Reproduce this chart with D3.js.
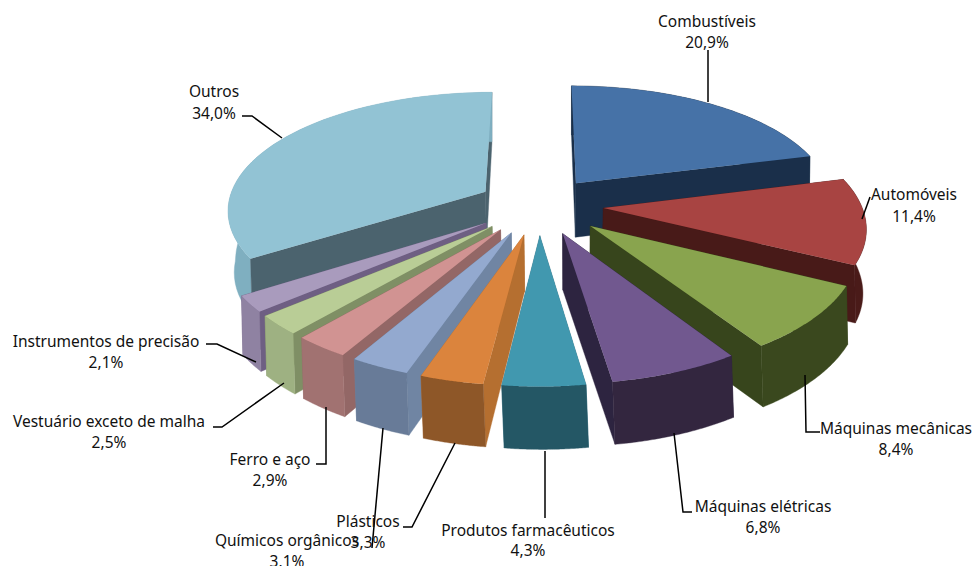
<!DOCTYPE html>
<html><head><meta charset="utf-8">
<script src="https://cdn.jsdelivr.net/npm/d3@7"></script>
<style>html,body{margin:0;padding:0;background:#fff;overflow:hidden}svg{display:block}
text{font-family:"Noto Sans",sans-serif;font-size:15.5px;fill:#111;text-anchor:middle}</style>
</head><body><svg id="c" width="973" height="566"></svg>
<script>
const categories=["Combustíveis","Automóveis","Máquinas mecânicas","Máquinas elétricas","Produtos farmacêuticos","Plásticos","Químicos orgânicos","Ferro e aço","Vestuário exceto de malha","Instrumentos de precisão","Outros"];
const values=[20.9,11.4,8.4,6.8,4.3,3.3,3.1,2.9,2.5,2.1,34.0];
const percentLabels=["20,9%","11,4%","8,4%","6,8%","4,3%","3,3%","3,1%","2,9%","2,5%","2,1%","34,0%"];
const topColors=["#4672a7","#a84442","#89a44e","#71588f","#4198af","#db843d","#93a9cf","#d19392","#b9cd96","#a99bbd","#92c3d4"];
const rimColors=["#1a2f4a","#4a1b19","#3a481e","#33263f","#245765","#8e5728","#687b98","#a17271","#9eb182","#8f82a2","#7fafc0"];
const wallColors=["#1a2f4a","#481a18","#37451c","#2d2440","#2f7082","#b56f30","#7085a3","#936766","#7f8f65","#6e5f83","#4b636e"];
const explodeBy=[0.24,0.25,0.26,0.25,0.25,0.25,0.25,0.25,0.25,0.25,0.24];
// label layout: [centre x, name baseline, percent baseline], leader polyline
const labelAt=[[707,27,48],[914,200,222],[896,434,455],[763,512,533],[528,536,556],[368,527,548],[287,546,567],[270,465,486],[109,427,448],[106,347,368],[214,97,119]];
const leaders=[[[708,50],[708,102]],[[870,197],[862,219]],[[820,432],[806,432],[805,375]],[[692,512],[683,512],[674,433]],[[545,518],[545,451]],[[403,527],[412,527],[455,443]],[[372,548],[383,428]],[[316,464],[326,464],[326,407]],[[213,427],[222,427],[284,383]],[[206,344],[217,344],[256,362]],[[242,116],[252,116],[282,138]]];

const cx=539,cy=205,A=258,B=118,Px=0.14,Py=0.15,Ph=0.10,H=55;
const project=(X,Y,h)=>{
  const lean=h?(Math.max(Y,0)*2-6*X*Math.max(0,1-2*Math.abs(Y))):0;
  return [cx+X*A/(1-Px*Y)+lean,cy+Y*B/(1-Py*Y)+h/(1-Ph*Y)];};
const svg=d3.select("#c");
const arcs=d3.pie().sort(null).value(d=>d)(values);
const lineGen=d3.line();
const slices=arcs.map((a,i)=>{
  const mid=(a.startAngle+a.endAngle)/2;
  const ox=explodeBy[i]*Math.sin(mid),oy=-explodeBy[i]*Math.cos(mid);
  const rim=d3.range(0,1.0001,1/48).map(t=>{const ang=a.startAngle+t*(a.endAngle-a.startAngle);
    return [ox+Math.sin(ang),oy-Math.cos(ang)];});
  return {i,mid,apex:[ox,oy],rim};
});
const wall=(pts)=>lineGen(pts.map(p=>project(p[0],p[1],0)).concat(pts.slice().reverse().map(p=>project(p[0],p[1],H))))+"Z";
slices.sort((a,b)=>Math.cos(b.mid)-Math.cos(a.mid)).forEach(s=>{
  const g=svg.append("g");
  const last=s.rim[s.rim.length-1];
  const faces=[
    {pts:[s.apex,s.rim[0]],c:wallColors[s.i]},
    {pts:[s.apex,last],c:wallColors[s.i]},
    {pts:s.rim,c:rimColors[s.i]}
  ];
  faces.sort((a,b)=>d3.mean(a.pts,p=>p[1])-d3.mean(b.pts,p=>p[1]));
  faces.forEach(f=>g.append("path").attr("d",wall(f.pts)).attr("fill",f.c).attr("stroke",f.c).attr("stroke-width",0.4));
  const topPts=[s.apex,...s.rim].map(p=>project(p[0],p[1],0));
  g.append("path").attr("d",lineGen(topPts)+"Z").attr("fill",topColors[s.i]);
});
const leaderLine=d3.line();
leaders.forEach(l=>svg.append("path").attr("d",leaderLine(l)).attr("fill","none").attr("stroke","#000").attr("stroke-width",1.5));
categories.forEach((c,i)=>{
  svg.append("text").attr("x",labelAt[i][0]).attr("y",labelAt[i][1]).text(c);
  svg.append("text").attr("x",labelAt[i][0]).attr("y",labelAt[i][2]).text(percentLabels[i]);
});
</script></body></html>
